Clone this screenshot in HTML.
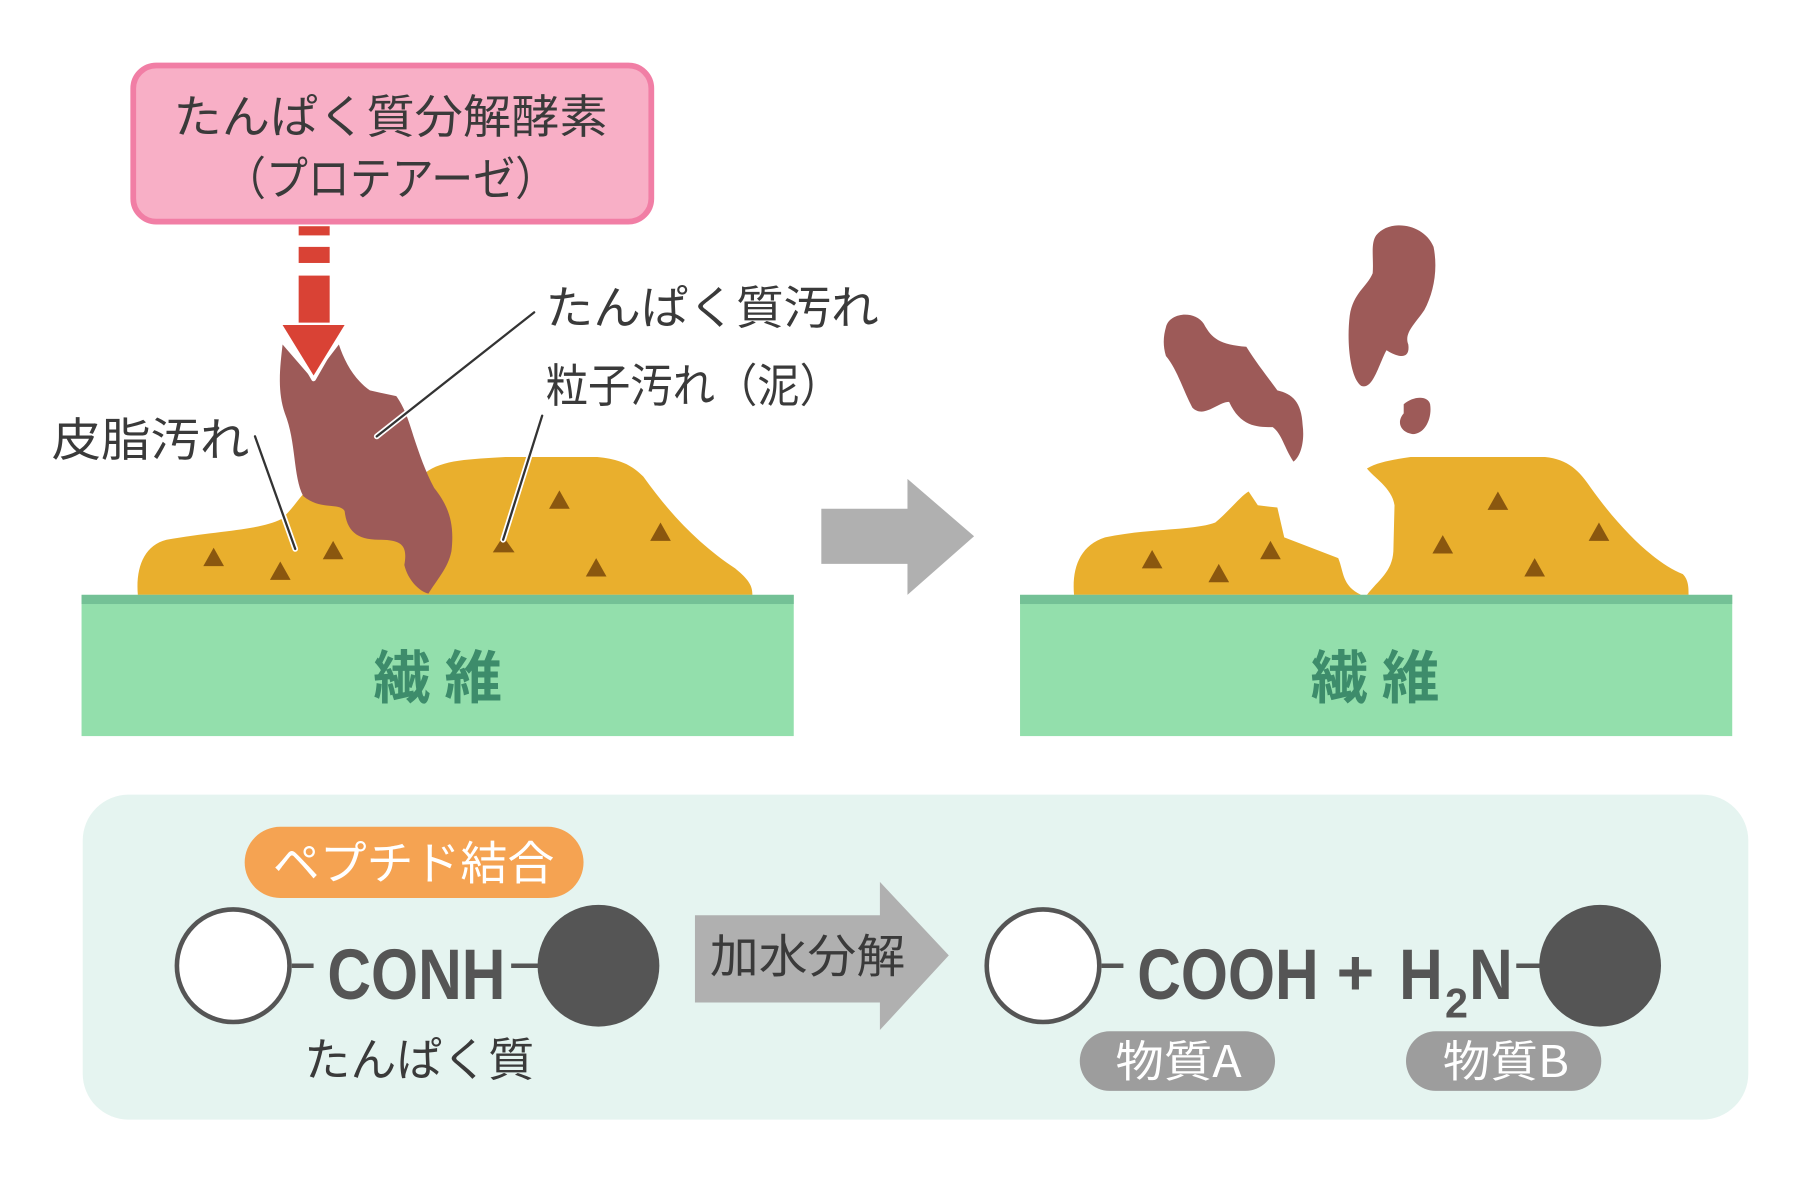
<!DOCTYPE html>
<html><head><meta charset="utf-8"><style>
html,body{margin:0;padding:0;background:#fff;}
svg{display:block;}
text{font-family:"Liberation Sans","Noto Sans CJK JP",sans-serif;}
.jp{font-family:"Noto Sans CJK JP","Liberation Sans",sans-serif;}
</style></head><body>
<svg width="1800" height="1200" viewBox="0 0 1567 1045" preserveAspectRatio="none" xmlns="http://www.w3.org/2000/svg">
<rect width="1567" height="1045" fill="#fff"/>
<rect x="116" y="57" width="451" height="136" rx="20" fill="#f8afc6" stroke="#f17ea5" stroke-width="5"/>
<text class="jp" x="340" y="116" font-size="40" fill="#3a3a3a" text-anchor="middle" textLength="378" lengthAdjust="spacingAndGlyphs">たんぱく質分解酵素</text>
<text class="jp" x="340" y="170" font-size="40" fill="#3a3a3a" text-anchor="middle" textLength="290" lengthAdjust="spacingAndGlyphs">（プロテアーゼ）</text>
<rect x="260" y="197" width="27" height="8" fill="#d94235"/>
<rect x="260" y="215" width="27" height="14" fill="#d94235"/>
<rect x="260" y="240" width="27" height="50" fill="#d94235"/>
<path d="M120,518 C118,495 125,475 145,470 C190,462 225,462 245,452 C258,440 262,430 270,425 L300,440 L370,412 C385,400 410,400 440,398 L520,398 C540,400 550,405 560,415 C585,450 610,475 640,495 C652,505 655,510 655,518 Z" fill="#e9af2d"/>
<path d="M246,300 C244,318 241,340 248,360 C258,385 255,415 264,432 C280,445 295,437 300,445 C302,462 310,470 330,470 C350,470 355,475 352,492 C355,505 365,515 373,517 C380,505 390,495 393,480 C396,455 390,440 378,425 C370,410 365,395 360,380 C354,360 350,352 345,345 L322,340 C308,330 300,315 295,300 L272,330 Z" fill="#9d5a58"/>
<polygon points="246,283 300,283 273,330" fill="#d94235" stroke="#fff" stroke-width="4" stroke-linejoin="round"/>
<polygon points="246,283 300,283 273,327" fill="#d94235"/>
<g fill="#8a570f">
<polygon points="186,477 177,493 195,493"/>
<polygon points="244,489 235,505 253,505"/>
<polygon points="290,471 281,487 299,487"/>
<polygon points="438,467 429,481 448,481"/>
<polygon points="487,427 478,443 496,443"/>
<polygon points="575,455 566,471 584,471"/>
<polygon points="519,486 510,502 528,502"/>
</g>
<g stroke="#fff" stroke-width="5" stroke-linecap="round">
<line x1="465" y1="272" x2="328" y2="380"/>
<line x1="222" y1="380" x2="257" y2="478"/>
<line x1="472" y1="362" x2="438" y2="470"/>
</g>
<g stroke="#333" stroke-width="2" stroke-linecap="round">
<line x1="465" y1="272" x2="328" y2="380"/>
<line x1="222" y1="380" x2="257" y2="478"/>
<line x1="472" y1="362" x2="438" y2="470"/>
</g>
<text class="jp" x="475" y="282" font-size="40" fill="#3a3a3a" textLength="290" lengthAdjust="spacingAndGlyphs">たんぱく質汚れ</text>
<text class="jp" x="475" y="350" font-size="40" fill="#3a3a3a" textLength="258" lengthAdjust="spacingAndGlyphs">粒子汚れ（泥）</text>
<text class="jp" x="45" y="397" font-size="40" fill="#3a3a3a" textLength="172" lengthAdjust="spacingAndGlyphs">皮脂汚れ</text>
<rect x="71" y="518" width="620" height="123" fill="#93dfac"/>
<rect x="71" y="518" width="620" height="8" fill="#74c196"/>
<text class="jp" x="381" y="608" font-size="50" font-weight="bold" fill="#3d8c6b" text-anchor="middle" textLength="112" lengthAdjust="spacing">繊 維</text>
<polygon points="715,443 790,443 790,417 848,467 790,518 790,491 715,491" fill="#b0b0b0"/>
<path d="M935,518 C933,495 940,475 962,468 C1000,460 1040,462 1058,455 C1070,445 1080,432 1087,428 L1095,440 L1112,442 L1118,468 L1165,486 C1170,498 1168,510 1185,518 Z" fill="#e9af2d"/>
<path d="M1190,518 C1200,505 1212,498 1213,480 L1214,440 C1212,425 1195,415 1190,408 C1200,402 1215,400 1228,398 L1345,398 C1365,400 1375,410 1385,425 C1410,460 1440,490 1465,500 C1470,505 1470,512 1470,518 Z" fill="#e9af2d"/>
<g fill="#8a570f">
<polygon points="1003,479 994,495 1012,495"/>
<polygon points="1061,491 1052,507 1070,507"/>
<polygon points="1106,471 1097,487 1115,487"/>
<polygon points="1304,428 1295,444 1313,444"/>
<polygon points="1256,466 1247,482 1265,482"/>
<polygon points="1336,486 1327,502 1345,502"/>
<polygon points="1392,455 1383,471 1401,471"/>
</g>
<g fill="#9d5a58">
<path d="M1015,285 C1018,272 1040,270 1048,282 C1055,295 1062,300 1085,302 C1095,318 1105,330 1112,340 C1125,343 1133,350 1134,370 C1136,385 1132,398 1126,402 C1118,390 1116,378 1108,372 C1095,372 1080,372 1070,350 C1060,350 1048,365 1038,355 C1030,340 1025,322 1015,310 C1012,300 1013,292 1015,285 Z"/>
<path d="M1198,205 C1210,190 1240,195 1248,215 C1252,235 1248,255 1240,270 C1232,282 1222,290 1226,300 C1228,315 1215,310 1207,305 C1200,318 1195,340 1185,336 C1176,330 1172,300 1175,275 C1178,255 1190,250 1195,238 C1196,225 1193,212 1198,205 Z"/>
<path d="M1222,352 C1230,345 1243,344 1245,352 C1247,365 1240,378 1230,378 C1220,377 1215,368 1222,360 Z"/>
</g>
<rect x="888" y="518" width="620" height="123" fill="#93dfac"/>
<rect x="888" y="518" width="620" height="8" fill="#74c196"/>
<text class="jp" x="1197" y="608" font-size="50" font-weight="bold" fill="#3d8c6b" text-anchor="middle" textLength="112" lengthAdjust="spacing">繊 維</text>
<rect x="72" y="692" width="1450" height="283" rx="40" fill="#e5f4f0"/>
<rect x="213" y="720" width="295" height="62" rx="31" fill="#f5a352"/>
<text class="jp" x="360" y="766" font-size="40" fill="#fff" text-anchor="middle" textLength="245" lengthAdjust="spacingAndGlyphs">ペプチド結合</text>
<circle cx="203" cy="841" r="49" fill="#fff" stroke="#555" stroke-width="4"/>
<line x1="254" y1="841" x2="273" y2="841" stroke="#555" stroke-width="4"/>
<text x="285" y="870" font-size="62" font-weight="bold" fill="#555" textLength="155" lengthAdjust="spacingAndGlyphs">CONH</text>
<line x1="445" y1="841" x2="470" y2="841" stroke="#555" stroke-width="4"/>
<circle cx="521" cy="841" r="53" fill="#555"/>
<text class="jp" x="365" y="937" font-size="40" fill="#3a3a3a" text-anchor="middle" textLength="200" lengthAdjust="spacingAndGlyphs">たんぱく質</text>
<polygon points="605,797 766,797 766,768 826,832 766,897 766,873 605,873" fill="#b0b0b0"/>
<text class="jp" x="703" y="847" font-size="40" fill="#3a3a3a" text-anchor="middle" textLength="170" lengthAdjust="spacingAndGlyphs">加水分解</text>
<circle cx="908" cy="841" r="49" fill="#fff" stroke="#555" stroke-width="4"/>
<line x1="959" y1="841" x2="978" y2="841" stroke="#555" stroke-width="4"/>
<text x="990" y="870" font-size="62" font-weight="bold" fill="#555" textLength="158" lengthAdjust="spacingAndGlyphs">COOH</text>
<text x="1180" y="866" font-size="56" font-weight="bold" fill="#555" text-anchor="middle">+</text>
<text x="1218" y="870" font-size="62" font-weight="bold" fill="#555" textLength="38" lengthAdjust="spacingAndGlyphs">H</text>
<text x="1258" y="886" font-size="36" font-weight="bold" fill="#555" textLength="20" lengthAdjust="spacingAndGlyphs">2</text>
<text x="1279" y="870" font-size="62" font-weight="bold" fill="#555" textLength="38" lengthAdjust="spacingAndGlyphs">N</text>
<line x1="1320" y1="841" x2="1345" y2="841" stroke="#555" stroke-width="4"/>
<circle cx="1393" cy="841" r="53" fill="#555"/>
<rect x="940" y="898" width="170" height="52" rx="26" fill="#9d9d9d"/>
<text class="jp" x="1026" y="938" font-size="38" fill="#fff" text-anchor="middle" textLength="110" lengthAdjust="spacingAndGlyphs">物質A</text>
<rect x="1224" y="898" width="170" height="52" rx="26" fill="#9d9d9d"/>
<text class="jp" x="1311" y="938" font-size="38" fill="#fff" text-anchor="middle" textLength="110" lengthAdjust="spacingAndGlyphs">物質B</text>
</svg>
</body></html>
